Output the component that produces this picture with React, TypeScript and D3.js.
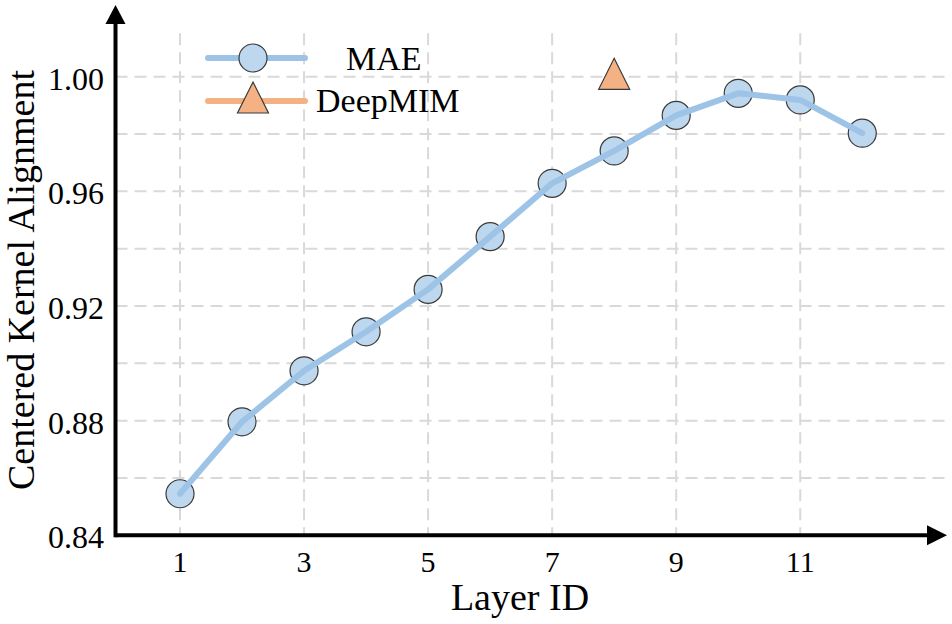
import React, { useEffect, useRef } from "react";
import * as d3 from "d3";

const layers = [1, 2, 3, 4, 5, 6, 7, 8, 9, 10, 11, 12];
const maeValues = [0.8545, 0.8796, 0.8974, 0.911, 0.9258, 0.9442, 0.9628, 0.9741, 0.9865, 0.9942, 0.9919, 0.9803];
const deepmimLayers = [8];
const deepmimValues = [1.001];
const xTicks = [1, 3, 5, 7, 9, 11];
const yTicks = [0.84, 0.88, 0.92, 0.96, 1.0];
const yGridValues = [0.86, 0.88, 0.9, 0.92, 0.94, 0.96, 0.98, 1.0];
const seriesNames = ["MAE", "DeepMIM"];

const FONT = "'Liberation Serif', 'Times New Roman', serif";

const App = () => {
  const chartRef = useRef<HTMLDivElement>(null);

  useEffect(() => {
    const width = 952;
    const height = 624;

    d3.select(chartRef.current).select("svg").remove(); // clear previous chart

    const svg = d3
      .select(chartRef.current)
      .append("svg")
      .attr("width", width)
      .attr("height", height)
      .style("position", "absolute")
      .style("left", "0px")
      .style("top", "0px")
      .style("background", "#fff");

    const x = d3.scaleLinear().domain([-0.04, 13.35]).range([115.5, 946]);
    const y = d3.scaleLinear().domain([0.84, 1.0]).range([535.3, 76.7]);

    const gridTop = y(1.0152);
    const gridRight = 945;
    const axisX = x(-0.04);
    const axisY = y(0.84);

    // grid
    const grid = svg.append("g").attr("stroke", "#d9d9d9").attr("stroke-width", 2).attr("stroke-dasharray", "12,7");
    grid
      .selectAll("line.h")
      .data(yGridValues)
      .enter()
      .append("line")
      .attr("x1", axisX)
      .attr("x2", gridRight)
      .attr("y1", (d) => y(d))
      .attr("y2", (d) => y(d));
    grid
      .selectAll("line.v")
      .data(xTicks)
      .enter()
      .append("line")
      .attr("x1", (d) => x(d))
      .attr("x2", (d) => x(d))
      .attr("y1", gridTop)
      .attr("y2", axisY);

    // axes with arrows
    svg.append("line").attr("x1", axisX).attr("x2", 930).attr("y1", axisY).attr("y2", axisY)
      .attr("stroke", "#000").attr("stroke-width", 4);
    svg.append("line").attr("x1", axisX).attr("x2", axisX).attr("y1", axisY + 2).attr("y2", 20)
      .attr("stroke", "#000").attr("stroke-width", 4);
    svg.append("path")
      .attr("d", `M${947},${axisY} L${927},${axisY - 10} L${927},${axisY + 10} Z`)
      .attr("fill", "#000");
    svg.append("path")
      .attr("d", `M${axisX},${5} L${axisX - 10},${24} L${axisX + 10},${24} Z`)
      .attr("fill", "#000");

    // tick labels
    svg.selectAll("text.ytick")
      .data(yTicks)
      .enter()
      .append("text")
      .attr("x", 104)
      .attr("y", (d) => y(d) + 13)
      .attr("text-anchor", "end")
      .style("font-family", FONT)
      .style("font-size", "32px")
      .text((d) => d.toFixed(2));

    svg.selectAll("text.xtick")
      .data(xTicks)
      .enter()
      .append("text")
      .attr("x", (d) => x(d))
      .attr("y", 572)
      .attr("text-anchor", "middle")
      .style("font-family", FONT)
      .style("font-size", "30px")
      .text((d) => d);

    // axis titles
    svg.append("text")
      .attr("x", 520)
      .attr("y", 610)
      .attr("text-anchor", "middle")
      .style("font-family", FONT)
      .style("font-size", "38px")
      .text("Layer ID");

    svg.append("text")
      .attr("transform", `translate(34,280) rotate(-90)`)
      .attr("text-anchor", "middle")
      .style("font-family", FONT)
      .style("font-size", "38px")
      .text("Centered Kernel Alignment");

    const triangle = (cx: number, cy: number, s: number) =>
      `M${cx},${cy - s} L${cx + s},${cy + s} L${cx - s},${cy + s} Z`;

    // MAE markers, line on top
    const maeData = layers.map((l, i) => ({ l, v: maeValues[i] }));
    svg.selectAll("circle.mae")
      .data(maeData)
      .enter()
      .append("circle")
      .attr("cx", (d) => x(d.l))
      .attr("cy", (d) => y(d.v))
      .attr("r", 14)
      .attr("fill", "#bdd7ee")
      .attr("stroke", "#3a3a3a")
      .attr("stroke-width", 1.2);

    const line = d3
      .line<{ l: number; v: number }>()
      .x((d) => x(d.l))
      .y((d) => y(d.v));

    svg.append("path")
      .datum(maeData)
      .attr("d", line)
      .attr("fill", "none")
      .attr("stroke", "#9dc3e6")
      .attr("stroke-width", 6)
      .attr("stroke-linecap", "round")
      .attr("stroke-linejoin", "round");

    // DeepMIM point
    svg.selectAll("path.deepmim")
      .data(deepmimLayers.map((l, i) => ({ l, v: deepmimValues[i] })))
      .enter()
      .append("path")
      .attr("d", (d) => triangle(x(d.l), y(d.v), 15.5))
      .attr("fill", "#f4b183")
      .attr("stroke", "#3a3a3a")
      .attr("stroke-width", 1.2);

    // legend
    const legend = svg.append("g");
    legend.append("line").attr("x1", 208).attr("x2", 305).attr("y1", 58).attr("y2", 58)
      .attr("stroke", "#9dc3e6").attr("stroke-width", 6).attr("stroke-linecap", "round");
    legend.append("circle").attr("cx", 253).attr("cy", 58).attr("r", 14)
      .attr("fill", "#bdd7ee").attr("stroke", "#3a3a3a").attr("stroke-width", 1.2);
    legend.append("line").attr("x1", 208).attr("x2", 305).attr("y1", 101).attr("y2", 101)
      .attr("stroke", "#f4b183").attr("stroke-width", 6).attr("stroke-linecap", "round");
    legend.append("path").attr("d", triangle(253, 97.5, 15.5))
      .attr("fill", "#f4b183").attr("stroke", "#3a3a3a").attr("stroke-width", 1.2);
    legend.append("text").attr("x", 346).attr("y", 69.5)
      .style("font-family", FONT).style("font-size", "34px").text(seriesNames[0]);
    legend.append("text").attr("x", 316).attr("y", 111.5)
      .style("font-family", FONT).style("font-size", "34px").text(seriesNames[1]);
  }, []);

  return <div ref={chartRef}></div>;
};

export default App;
